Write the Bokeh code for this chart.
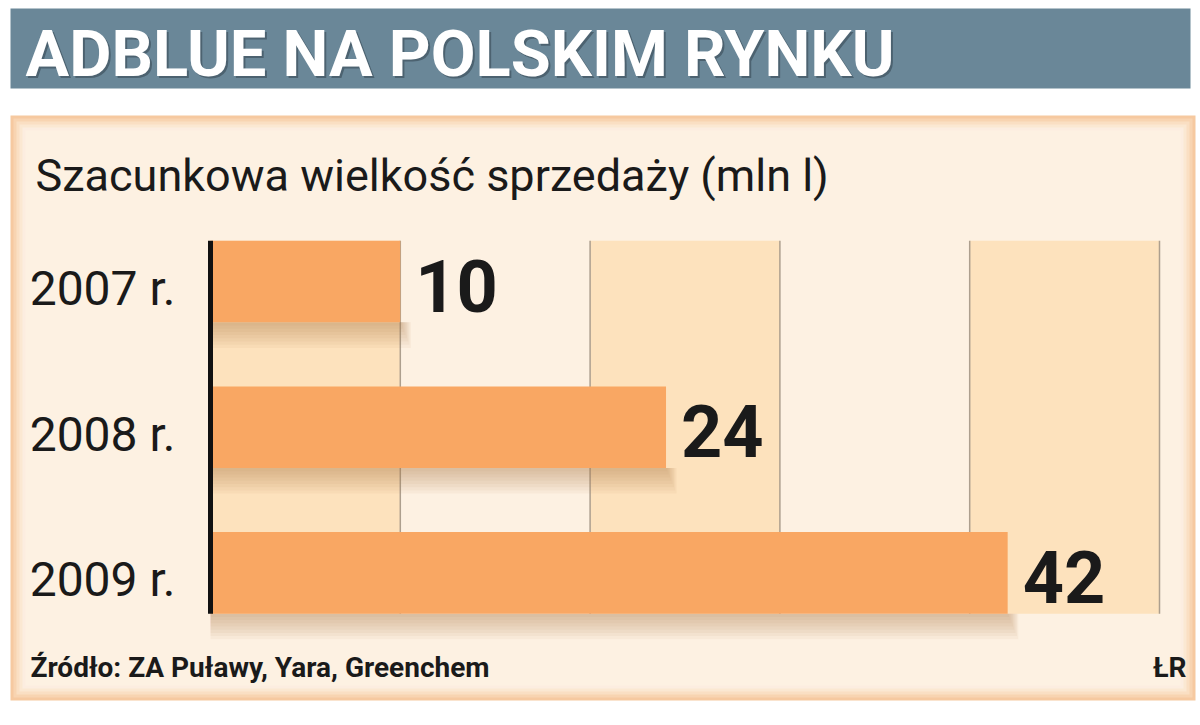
from bokeh.plotting import figure
from bokeh.models import Range1d, ColumnDataSource
from bokeh.core.properties import value
from bokeh.embed import file_html
from bokeh.resources import INLINE

# ---- data ----
years = ["2007 r.", "2008 r.", "2009 r."]
sales = [10, 24, 42]
grid_ticks = [10, 20, 30, 40, 50]
stripe_left = [0, 20, 40]
stripe_right = [10, 30, 50]

title_text = "ADBLUE NA POLSKIM RYNKU"
subtitle_text = "Szacunkowa wielkość sprzedaży (mln l)"
source_text = "Źródło: ZA Puławy, Yara, Greenchem"
credit_text = "ŁR"

# ---- style / layout ----
FONT = "Roboto"
BAR = "#f9a763"
PALE = "#fdf1e2"
STRIPE = "#fde2bd"
BAND = "#6a8798"
INK = "#1a1a1a"
W, H = 1200, 725
X0_PX, PX_X = 210, 18.98        # canvas x of value 0, px per unit
Y0_PX, PX_Y = 281, 145.7        # canvas y of first category centre, px per category
BAR_H = 0.56
Y_TOP, Y_BOT = -0.28, 2.28

ypos = list(range(len(years)))

p = figure(width=W, height=H, output_backend="svg", toolbar_location=None,
           x_range=Range1d(-X0_PX / PX_X, (W - X0_PX) / PX_X),
           y_range=Range1d((H - Y0_PX) / PX_Y, -Y0_PX / PX_Y),
           min_border=0)
p.min_border_left = p.min_border_right = p.min_border_top = p.min_border_bottom = 0
p.outline_line_color = None
p.grid.visible = False
p.axis.visible = False
p.background_fill_color = "white"
p.border_fill_color = "white"
p.extra_x_ranges = {"px": Range1d(0, W)}
p.extra_y_ranges = {"px": Range1d(H, 0)}
PX = dict(x_range_name="px", y_range_name="px")

# title band
p.quad(left=[10], right=[1190], top=[8], bottom=[88], fill_color=BAND, line_color=None, **PX)
# panel with soft edge
panel_layers = ["#f6c9a0", "#f8d4b1", "#fadfc3", "#fbe8d2", "#fcede0", PALE]
for i, c in enumerate(panel_layers):
    d = i * 3
    p.quad(left=[10 + d], right=[1195 - d], top=[115 + d], bottom=[700 - d],
           fill_color=c, line_color=None, **PX)

# stripes
p.quad(left=stripe_left, right=stripe_right, top=Y_TOP, bottom=Y_BOT,
       fill_color=STRIPE, line_color=None)
# grid lines
p.segment(x0=grid_ticks, x1=grid_ticks, y0=[Y_TOP] * len(grid_ticks),
          y1=[Y_BOT] * len(grid_ticks), line_color="#ad9f8e", line_width=1.5)

# bar shadows
for k in range(1, 9):
    p.quad(left=[0] * len(sales), right=[v + k * 0.07 for v in sales],
           top=[y + BAR_H / 2 for y in ypos],
           bottom=[y + BAR_H / 2 + k * 3.2 / PX_Y for y in ypos],
           fill_color="#a87a45", fill_alpha=0.06, line_color=None)

src = ColumnDataSource(dict(y=ypos, v=sales, lab=[str(s) for s in sales], yr=years))
p.hbar(y="y", right="v", left=0, height=BAR_H, source=src,
       fill_color=BAR, line_color=None)
# value axis line
p.segment(x0=[0], x1=[0], y0=[Y_TOP], y1=[Y_BOT], line_color="#111111", line_width=5)

# value labels
p.text(x="v", y="y", text="lab", source=src, x_offset=15, y_offset=4,
       text_font=value(FONT), text_font_style="bold", text_font_size="72px",
       text_color=INK, text_baseline="middle", text_align="left")
# category labels
p.text(x=0, y="y", text="yr", source=src, x_offset=-35, y_offset=7,
       text_font=value(FONT), text_font_size="48px",
       text_color=INK, text_baseline="middle", text_align="right")

# texts
p.text(x=[27], y=[55], text=[title_text], text_font=value(FONT), text_font_style="bold",
       text_font_size="65px", text_color="#2e3e48", text_alpha=0.5,
       text_baseline="middle", **PX)
p.text(x=[25], y=[53], text=[title_text], text_font=value(FONT), text_font_style="bold",
       text_font_size="65px", text_color="white", text_baseline="middle", **PX)
p.text(x=[35], y=[175], text=[subtitle_text], text_font=value(FONT),
       text_font_size="45px", text_color=INK, text_baseline="middle", **PX)
p.text(x=[30], y=[667], text=[source_text], text_font=value(FONT), text_font_style="bold",
       text_font_size="28px", text_color=INK, text_baseline="middle", **PX)
p.text(x=[1186], y=[667], text=[credit_text], text_font=value(FONT), text_font_style="bold",
       text_font_size="28px", text_color=INK, text_baseline="middle",
       text_align="right", **PX)

open("out.html", "w").write(file_html(p, INLINE))
